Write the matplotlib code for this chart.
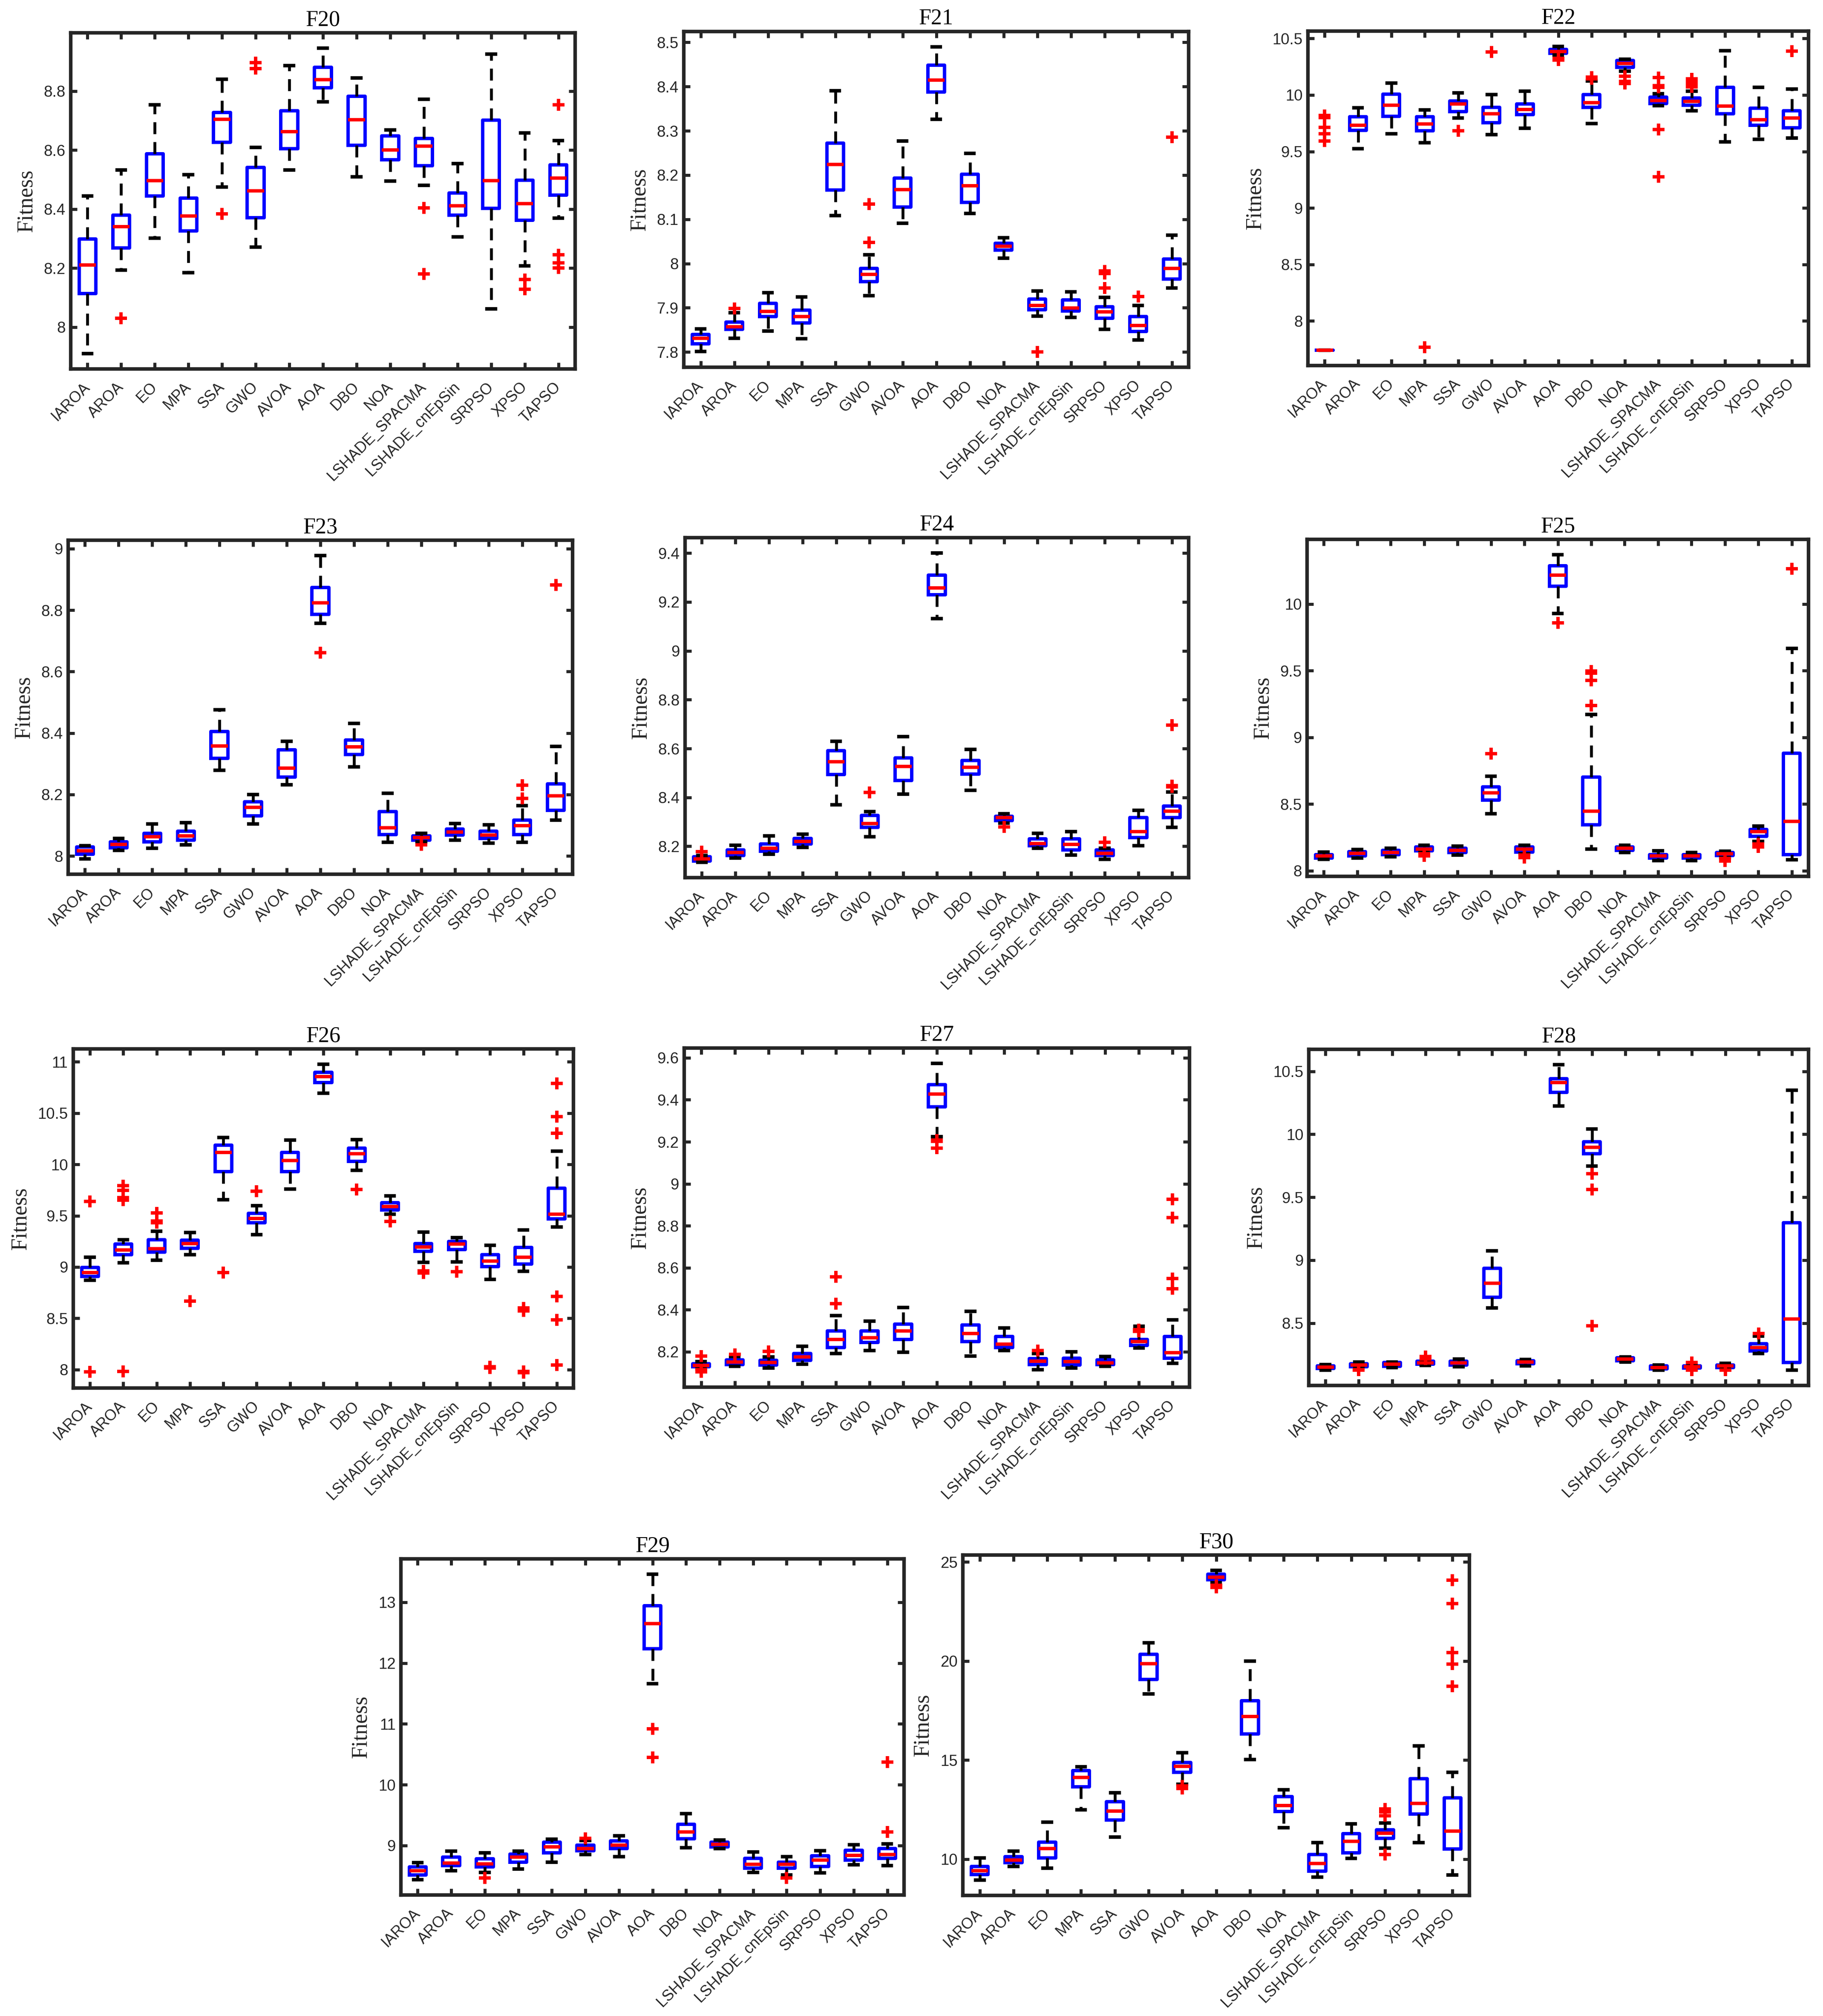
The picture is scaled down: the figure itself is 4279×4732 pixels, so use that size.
import matplotlib
matplotlib.use('Agg')
import matplotlib.pyplot as plt
from matplotlib.ticker import MultipleLocator, FuncFormatter

# algorithm names along the x axis of every panel
algorithms = ['IAROA', 'AROA', 'EO', 'MPA', 'SSA', 'GWO', 'AVOA', 'AOA', 'DBO', 'NOA',
              'LSHADE_SPACMA', 'LSHADE_cnEpSin', 'SRPSO', 'XPSO', 'TAPSO']

# per panel: (lower whisker, q1, median, q3, upper whisker) for each algorithm, plus outliers
F20_box = [(7.910, 8.114, 8.210, 8.299, 8.444), (8.193, 8.268, 8.340, 8.380, 8.533),
           (8.302, 8.444, 8.497, 8.587, 8.754), (8.185, 8.326, 8.377, 8.437, 8.517),
           (8.475, 8.626, 8.705, 8.727, 8.841), (8.272, 8.371, 8.462, 8.542, 8.609),
           (8.533, 8.605, 8.663, 8.734, 8.887), (8.764, 8.812, 8.839, 8.881, 8.946),
           (8.509, 8.617, 8.703, 8.783, 8.845), (8.495, 8.567, 8.600, 8.648, 8.668),
           (8.481, 8.547, 8.613, 8.640, 8.773), (8.306, 8.379, 8.412, 8.455, 8.555),
           (8.062, 8.403, 8.497, 8.701, 8.926), (8.208, 8.363, 8.419, 8.498, 8.658),
           (8.369, 8.448, 8.505, 8.550, 8.633)]
F20_out = [[], [8.030], [], [], [8.384], [8.877, 8.897], [], [], [], [], [8.404, 8.181], [], [],
           [8.161, 8.129], [8.753, 8.245, 8.218, 8.200]]

F21_box = [(7.801, 7.818, 7.831, 7.840, 7.852), (7.831, 7.851, 7.857, 7.868, 7.889),
           (7.847, 7.880, 7.892, 7.910, 7.934), (7.830, 7.866, 7.880, 7.895, 7.924),
           (8.108, 8.166, 8.224, 8.272, 8.391), (7.927, 7.959, 7.975, 7.989, 8.020),
           (8.091, 8.128, 8.167, 8.193, 8.277), (8.326, 8.388, 8.415, 8.448, 8.490),
           (8.113, 8.138, 8.176, 8.202, 8.249), (8.012, 8.030, 8.039, 8.046, 8.058),
           (7.881, 7.896, 7.905, 7.920, 7.938), (7.878, 7.893, 7.899, 7.918, 7.936),
           (7.851, 7.876, 7.891, 7.902, 7.923), (7.827, 7.846, 7.860, 7.880, 7.905),
           (7.945, 7.965, 7.989, 8.010, 8.064)]
F21_out = [[], [7.898], [], [], [], [8.134, 8.048], [], [], [], [], [7.800], [],
           [7.983, 7.977, 7.945], [7.925], [8.286]]

F22_box = [(7.740, 7.740, 7.740, 7.740, 7.740), (9.526, 9.688, 9.732, 9.807, 9.887),
           (9.656, 9.812, 9.911, 10.009, 10.104), (9.576, 9.682, 9.742, 9.807, 9.868),
           (9.797, 9.851, 9.922, 9.948, 10.017), (9.649, 9.753, 9.833, 9.890, 10.002),
           (9.706, 9.825, 9.872, 9.920, 10.035), (10.355, 10.370, 10.385, 10.405, 10.431),
           (9.747, 9.890, 9.933, 10.002, 10.126), (10.212, 10.245, 10.279, 10.305, 10.316),
           (9.905, 9.926, 9.952, 9.981, 10.013), (9.861, 9.911, 9.942, 9.974, 10.035),
           (9.584, 9.833, 9.900, 10.067, 10.392), (9.608, 9.732, 9.781, 9.883, 10.067),
           (9.619, 9.710, 9.797, 9.861, 10.052)]
F22_out = [[9.820, 9.801, 9.714, 9.656, 9.591], [], [], [7.766], [9.682], [10.381], [],
           [10.323, 10.310], [10.158, 10.145], [10.165, 10.121, 10.100],
           [10.154, 10.082, 10.067, 9.693, 9.277], [10.143, 10.121, 10.100, 10.085, 10.070],
           [], [], [10.387]]

F23_box = [(7.990, 8.006, 8.017, 8.030, 8.034), (8.018, 8.026, 8.037, 8.046, 8.057),
           (8.025, 8.046, 8.062, 8.074, 8.104), (8.036, 8.052, 8.066, 8.081, 8.108),
           (8.279, 8.318, 8.358, 8.405, 8.475), (8.104, 8.130, 8.158, 8.176, 8.200),
           (8.232, 8.256, 8.286, 8.346, 8.373), (8.757, 8.786, 8.824, 8.874, 8.978),
           (8.290, 8.330, 8.355, 8.377, 8.432), (8.044, 8.070, 8.092, 8.144, 8.204),
           (8.046, 8.052, 8.060, 8.065, 8.074), (8.052, 8.068, 8.078, 8.088, 8.105),
           (8.042, 8.057, 8.068, 8.081, 8.102), (8.044, 8.070, 8.098, 8.116, 8.164),
           (8.117, 8.148, 8.196, 8.235, 8.356)]
F23_out = [[], [], [], [], [], [], [], [8.662], [], [], [8.036], [], [], [8.231, 8.188], [8.882]]

F24_box = [(8.135, 8.140, 8.148, 8.157, 8.163), (8.152, 8.163, 8.175, 8.185, 8.205),
           (8.167, 8.180, 8.192, 8.210, 8.242), (8.195, 8.210, 8.220, 8.233, 8.250),
           (8.370, 8.494, 8.546, 8.591, 8.629), (8.240, 8.277, 8.293, 8.327, 8.342),
           (8.414, 8.469, 8.527, 8.561, 8.649), (9.132, 9.230, 9.258, 9.310, 9.400),
           (8.429, 8.496, 8.524, 8.552, 8.597), (8.295, 8.305, 8.317, 8.322, 8.333),
           (8.192, 8.203, 8.212, 8.230, 8.253), (8.165, 8.185, 8.207, 8.230, 8.260),
           (8.147, 8.163, 8.172, 8.185, 8.192), (8.202, 8.235, 8.260, 8.317, 8.347),
           (8.277, 8.318, 8.343, 8.365, 8.423)]
F24_out = [[8.178], [], [], [], [], [8.420], [], [], [], [8.280], [], [], [8.217], [],
           [8.696, 8.449, 8.444]]

F25_box = [(8.086, 8.097, 8.113, 8.122, 8.141), (8.095, 8.113, 8.132, 8.143, 8.159),
           (8.104, 8.122, 8.137, 8.152, 8.168), (8.141, 8.150, 8.164, 8.179, 8.192),
           (8.119, 8.137, 8.152, 8.168, 8.186), (8.429, 8.530, 8.584, 8.630, 8.709),
           (8.128, 8.141, 8.164, 8.177, 8.192), (9.927, 10.132, 10.214, 10.287, 10.369),
           (8.161, 8.343, 8.447, 8.703, 9.173), (8.137, 8.152, 8.168, 8.179, 8.192),
           (8.077, 8.095, 8.113, 8.122, 8.150), (8.077, 8.095, 8.113, 8.122, 8.137),
           (8.100, 8.115, 8.128, 8.137, 8.146), (8.219, 8.259, 8.292, 8.310, 8.334),
           (8.082, 8.122, 8.369, 8.880, 9.666)]
F25_out = [[], [], [], [8.128, 8.110], [], [8.877], [8.119, 8.100], [9.859],
           [9.237, 9.428, 9.480, 9.498], [], [], [], [8.091, 8.073], [8.201, 8.179, 8.190],
           [10.265]]

F26_box = [(8.869, 8.909, 8.947, 8.994, 9.094), (9.039, 9.118, 9.165, 9.225, 9.265),
           (9.066, 9.146, 9.177, 9.265, 9.348), (9.118, 9.182, 9.229, 9.260, 9.336),
           (9.657, 9.929, 10.115, 10.186, 10.262), (9.315, 9.431, 9.474, 9.521, 9.597),
           (9.759, 9.929, 10.036, 10.115, 10.238), (10.696, 10.798, 10.858, 10.898, 10.976),
           (9.941, 10.031, 10.103, 10.157, 10.240), (9.514, 9.557, 9.588, 9.628, 9.692),
           (9.047, 9.153, 9.196, 9.229, 9.338), (9.051, 9.170, 9.225, 9.248, 9.284),
           (8.880, 9.004, 9.058, 9.118, 9.213), (8.956, 9.028, 9.094, 9.189, 9.360),
           (9.391, 9.469, 9.516, 9.766, 10.131)]
F26_out = [[9.640, 7.978], [9.794, 9.747, 9.676, 9.652, 7.983], [9.528, 9.450, 9.430], [8.667],
           [8.947], [9.740], [], [], [9.754], [9.445], [8.963, 8.940], [8.952], [8.026, 8.014],
           [8.600, 8.572, 7.983, 7.970], [10.791, 10.466, 10.305, 8.714, 8.484, 8.045]]

F27_box = [(8.119, 8.128, 8.136, 8.143, 8.154), (8.130, 8.140, 8.151, 8.161, 8.177),
           (8.122, 8.137, 8.149, 8.160, 8.175), (8.142, 8.160, 8.175, 8.192, 8.227),
           (8.192, 8.221, 8.259, 8.300, 8.372), (8.206, 8.244, 8.267, 8.299, 8.346),
           (8.198, 8.259, 8.300, 8.331, 8.410), (9.225, 9.367, 9.428, 9.472, 9.573),
           (8.180, 8.248, 8.287, 8.328, 8.392), (8.207, 8.221, 8.236, 8.273, 8.314),
           (8.114, 8.140, 8.155, 8.167, 8.192), (8.122, 8.137, 8.154, 8.169, 8.200),
           (8.130, 8.140, 8.148, 8.161, 8.177), (8.219, 8.230, 8.248, 8.259, 8.322),
           (8.146, 8.169, 8.196, 8.273, 8.352)]
F27_out = [[8.180, 8.114, 8.105], [8.188], [8.201], [], [8.558, 8.430], [], [],
           [9.208, 9.202, 9.169], [], [], [8.207], [], [], [8.305, 8.297],
           [8.926, 8.840, 8.548, 8.500]]

F28_box = [(8.128, 8.140, 8.150, 8.159, 8.169), (8.144, 8.153, 8.167, 8.177, 8.192),
           (8.148, 8.157, 8.173, 8.186, 8.192), (8.163, 8.173, 8.183, 8.196, 8.206),
           (8.153, 8.167, 8.183, 8.196, 8.216), (8.621, 8.704, 8.816, 8.936, 9.074),
           (8.159, 8.177, 8.192, 8.202, 8.212), (10.223, 10.334, 10.412, 10.442, 10.553),
           (9.746, 9.844, 9.896, 9.941, 10.042), (8.192, 8.202, 8.216, 8.225, 8.231),
           (8.126, 8.138, 8.147, 8.159, 8.167), (8.134, 8.144, 8.153, 8.159, 8.167),
           (8.140, 8.148, 8.159, 8.167, 8.179), (8.260, 8.280, 8.305, 8.335, 8.397),
           (8.128, 8.188, 8.533, 9.298, 10.350)]
F28_out = [[], [8.130, 8.126], [], [8.235, 8.215], [], [], [], [], [9.688, 9.561, 8.479], [], [],
           [8.188, 8.130, 8.126], [8.128], [8.416], []]

F29_box = [(8.437, 8.518, 8.586, 8.650, 8.719), (8.586, 8.666, 8.711, 8.807, 8.908),
           (8.558, 8.646, 8.698, 8.779, 8.879), (8.610, 8.727, 8.807, 8.859, 8.908),
           (8.727, 8.879, 8.980, 9.053, 9.101), (8.852, 8.912, 8.952, 9.008, 9.080),
           (8.819, 8.952, 9.008, 9.072, 9.161), (11.661, 12.236, 12.650, 12.940, 13.462),
           (8.960, 9.109, 9.221, 9.350, 9.523), (8.948, 8.980, 9.020, 9.053, 9.088),
           (8.558, 8.630, 8.691, 8.791, 8.892), (8.518, 8.626, 8.687, 8.727, 8.819),
           (8.550, 8.658, 8.759, 8.831, 8.912), (8.686, 8.759, 8.839, 8.924, 9.012),
           (8.670, 8.791, 8.851, 8.948, 9.028)]
F29_out = [[], [], [8.469], [], [], [9.121], [], [10.918, 10.447], [], [], [], [8.469], [], [],
           [10.375, 9.221]]

F30_box = [(8.953, 9.236, 9.421, 9.631, 10.074), (9.631, 9.828, 9.951, 10.123, 10.406),
           (9.544, 10.074, 10.530, 10.862, 11.860), (12.500, 13.645, 14.126, 14.470, 14.655),
           (11.108, 11.970, 12.438, 12.906, 13.362), (18.350, 19.064, 19.865, 20.345, 20.911),
           (13.793, 14.384, 14.680, 14.877, 15.369), (23.953, 24.113, 24.224, 24.384, 24.569),
           (15.025, 16.318, 17.204, 18.005, 19.988), (11.601, 12.414, 12.709, 13.153, 13.510),
           (9.089, 9.397, 9.791, 10.246, 10.837), (10.037, 10.320, 10.899, 11.293, 11.786),
           (10.567, 11.059, 11.305, 11.490, 11.823), (10.837, 12.278, 12.808, 14.064, 15.727),
           (9.212, 10.505, 11.416, 13.091, 14.384)]
F30_out = [[], [], [], [], [], [], [13.695, 13.571], [23.830, 23.707], [], [], [], [],
           [12.537, 12.377, 12.192, 10.246], [], [24.076, 22.906, 20.419, 19.852, 18.719]]

titles = ['F20', 'F21', 'F22', 'F23', 'F24', 'F25', 'F26', 'F27', 'F28', 'F29', 'F30']
boxes = [F20_box, F21_box, F22_box, F23_box, F24_box, F25_box, F26_box, F27_box, F28_box,
         F29_box, F30_box]
outliers = [F20_out, F21_out, F22_out, F23_out, F24_out, F25_out, F26_out, F27_out, F28_out,
            F29_out, F30_out]
tick_steps = [0.2, 0.1, 0.5, 0.2, 0.2, 0.5, 0.5, 0.2, 0.5, 1, 5]

# axes frames in pixels: left, top, right, bottom
W, H = 4279, 4732
frames = [(166, 77, 1350, 866), (1605, 74, 2790, 862), (3070, 73, 4245, 858),
          (160, 1268, 1344, 2052), (1608, 1262, 2790, 2060), (3068, 1266, 4245, 2057),
          (172, 2462, 1346, 3258), (1606, 2460, 2792, 3256), (3072, 2463, 4245, 3252),
          (941, 3659, 2122, 4448), (2260, 3650, 3449, 4449)]

dark = '#262626'
fig = plt.figure(figsize=(W / 300, H / 300), dpi=300)

for name, box, out, step, (l, t, r, b) in zip(titles, boxes, outliers, tick_steps, frames):
    ax = fig.add_axes([l / W, 1 - b / H, (r - l) / W, (b - t) / H])
    stats = []
    for k, (lo, q1, med, q3, hi) in enumerate(box):
        stats.append(dict(label=algorithms[k], whislo=lo, q1=q1, med=med, q3=q3,
                          whishi=hi, fliers=out[k]))
    ax.bxp(stats, positions=range(1, 16), widths=0.5, capwidths=0.25,
           boxprops=dict(color='#0000ff', linewidth=1.9),
           medianprops=dict(color='#ff0000', linewidth=1.9, solid_capstyle='butt'),
           whiskerprops=dict(color='black', linewidth=1.6, linestyle=(0, (4.2, 2.8))),
           capprops=dict(color='black', linewidth=2.0),
           flierprops=dict(marker='+', markeredgecolor='#ff0000', markersize=6.5,
                           markeredgewidth=1.9, linestyle='none'))

    # limits follow the data with 5 % padding, like the original boxplot
    vals = [v for row in box for v in row] + [v for row in out for v in row]
    lo, hi = min(vals), max(vals)
    pad = 0.05 * (hi - lo)
    ax.set_ylim(lo - pad, hi + pad)
    ax.set_xlim(0.5, 15.5)

    ax.yaxis.set_major_locator(MultipleLocator(step))
    ax.yaxis.set_major_formatter(FuncFormatter(lambda v, p: f'{v:g}'))
    ax.set_xticks(range(1, 16))
    ax.set_xticklabels(algorithms, rotation=45, ha='right', va='center',
                       rotation_mode='anchor', fontsize=8.6, family='Liberation Sans')
    for lab in ax.get_yticklabels():
        lab.set_family('Liberation Sans')
        lab.set_fontsize(8.8)

    ax.tick_params(direction='in', top=True, right=True, length=3.5, width=1.7,
                   color=dark, labelcolor=dark)
    ax.tick_params(axis='x', pad=9)
    ax.tick_params(axis='y', pad=3)
    for sp in ax.spines.values():
        sp.set_linewidth(2.0)
        sp.set_color(dark)

    ax.set_title(name, family='Liberation Serif', fontsize=12.5, pad=4, color='black')
    ax.set_ylabel('Fitness', family='Liberation Serif', fontsize=12.5, labelpad=4, color=dark)

fig.savefig('out.png', dpi=300)
